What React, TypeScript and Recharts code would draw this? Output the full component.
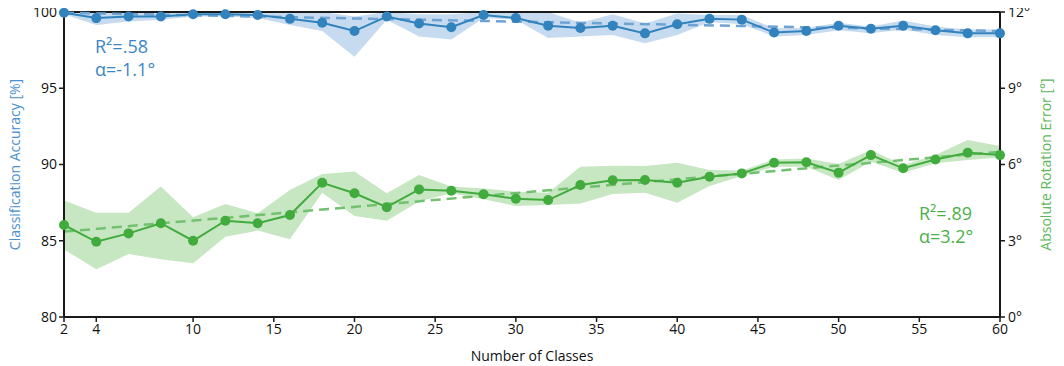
import React from 'react';
import { ComposedChart, Line, Area, XAxis, YAxis, ReferenceLine } from 'recharts';

const classes = [2, 4, 6, 8, 10, 12, 14, 16, 18, 20, 22, 24, 26, 28, 30, 32, 34, 36, 38, 40, 42, 44, 46, 48, 50, 52, 54, 56, 58, 60];
const accuracy = [99.95, 99.6, 99.7, 99.7, 99.85, 99.85, 99.8, 99.55, 99.3, 98.75, 99.7, 99.25, 99.0, 99.8, 99.6, 99.1, 98.95, 99.1, 98.6, 99.2, 99.55, 99.5, 98.65, 98.75, 99.1, 98.9, 99.1, 98.8, 98.6, 98.6];
const accuracyLow = [99.85, 99.15, 99.37, 99.5, 99.7, 99.7, 99.6, 99.15, 98.75, 97.07, 99.5, 98.4, 98.2, 99.6, 99.5, 98.3, 98.4, 98.5, 97.95, 98.5, 99.35, 99.2, 98.4, 98.5, 98.8, 98.6, 98.85, 98.5, 98.35, 98.35];
const accuracyHigh = [100, 100, 100, 100, 100, 100, 100, 100, 100, 99.7, 100, 99.85, 99.85, 100, 100, 100, 99.3, 99.85, 99.25, 99.9, 99.8, 99.8, 98.93, 98.95, 99.3, 99.05, 99.45, 99.05, 98.85, 98.85];
const rotError = [3.62, 2.96, 3.29, 3.69, 3.0, 3.79, 3.69, 4.01, 5.28, 4.87, 4.32, 5.02, 4.97, 4.83, 4.65, 4.6, 5.19, 5.38, 5.39, 5.28, 5.52, 5.65, 6.07, 6.09, 5.68, 6.37, 5.85, 6.2, 6.46, 6.37];
const rotErrorLow = [2.66, 1.88, 2.48, 2.27, 2.11, 3.16, 3.4, 3.06, 4.89, 3.97, 3.79, 4.54, 4.87, 4.63, 4.37, 4.41, 4.47, 4.84, 4.89, 4.5, 5.15, 5.55, 5.91, 5.91, 5.39, 6.11, 5.68, 6.05, 6.18, 6.28];
const rotErrorHigh = [4.58, 4.1, 4.1, 5.13, 3.92, 4.45, 4.08, 5.0, 5.63, 5.72, 4.87, 5.59, 5.13, 5.06, 4.93, 4.89, 5.91, 5.95, 5.94, 6.07, 5.78, 5.76, 6.2, 6.24, 6.02, 6.57, 5.98, 6.37, 6.96, 6.73];

const accuracyTrend = [{ c: 2, v: 99.95 }, { c: 60, v: 98.75 }];
const errorTrend = [{ c: 2, v: 3.36 }, { c: 60, v: 6.5 }];

const xTicks = [2, 4, 10, 15, 20, 25, 30, 35, 40, 45, 50, 55, 60];
const leftTicks = [80, 85, 90, 95, 100];
const rightTicks = [0, 3, 6, 9, 12];

const data = classes.map((c, i) => ({
  c,
  acc: accuracy[i],
  accBand: [accuracyLow[i], accuracyHigh[i]],
  err: rotError[i],
  errBand: [rotErrorLow[i], rotErrorHigh[i]],
}));

const W = 1064;
const H = 366;
const FONT = '"Open Sans", "Noto Sans", sans-serif';
const BLUE = '#3182bd';
const BLUE_BAND = '#c6dbef';
const BLUE_DASH = '#6ea3d3';
const BLUE_TEXT = '#3a86c6';
const GREEN = '#41ab3d';
const GREEN_BAND = '#c7e6c2';
const GREEN_DASH = '#72c16e';
const GREEN_TEXT = '#4cb04a';
const AXIS = '#1a1a1a';

export default function App() {
  const tickStyle = { fill: '#111', fontSize: 14, fontFamily: FONT };
  return (
    <div style={{ position: 'relative', width: W, height: H, margin: '-8px 0 0 -8px', fontFamily: FONT }}>
      <ComposedChart width={W} height={H} data={data} margin={{ top: 12, right: 0, bottom: 0, left: 0 }}>
        <XAxis
          dataKey="c"
          type="number"
          domain={[2, 60]}
          ticks={xTicks}
          interval={0}
          height={49}
          tick={tickStyle}
          tickSize={5}
          tickMargin={2}
          axisLine={{ stroke: AXIS, strokeWidth: 2 }}
          tickLine={{ stroke: AXIS, strokeWidth: 1.5 }}
          label={{ value: 'Number of Classes', position: 'insideBottom', offset: 5, style: { fill: '#111', fontSize: 14, fontFamily: FONT } }}
        />
        <YAxis
          yAxisId="left"
          domain={[80, 100]}
          ticks={leftTicks}
          interval={0}
          width={64}
          tick={tickStyle}
          tickSize={5}
          tickMargin={2}
          axisLine={{ stroke: AXIS, strokeWidth: 2 }}
          tickLine={{ stroke: AXIS, strokeWidth: 1.5 }}
          label={{ value: 'Classification Accuracy [%]', angle: -90, position: 'insideLeft', offset: 15, style: { textAnchor: 'middle', fill: '#4a90d0', fontSize: 14, fontFamily: FONT } }}
        />
        <YAxis
          yAxisId="right"
          orientation="right"
          domain={[0, 12]}
          ticks={rightTicks}
          interval={0}
          width={64}
          tick={tickStyle}
          tickFormatter={(v: number) => `${v}°`}
          tickSize={5}
          tickMargin={3}
          axisLine={{ stroke: AXIS, strokeWidth: 2 }}
          tickLine={{ stroke: AXIS, strokeWidth: 1.5 }}
          label={{ value: 'Absolute Rotation Error [°]', angle: -90, position: 'insideRight', offset: 18, style: { textAnchor: 'middle', fill: '#5cb85a', fontSize: 14, fontFamily: FONT } }}
        />
        <ReferenceLine yAxisId="left" y={100} stroke={AXIS} strokeWidth={2} />
        <Area yAxisId="left" type="linear" dataKey="accBand" stroke="none" fill={BLUE_BAND} fillOpacity={1} isAnimationActive={false} />
        <Area yAxisId="right" type="linear" dataKey="errBand" stroke="none" fill={GREEN_BAND} fillOpacity={1} isAnimationActive={false} />
        <Line yAxisId="left" data={accuracyTrend} dataKey="v" type="linear" stroke={BLUE_DASH} strokeWidth={2.5} strokeDasharray="10 6" dot={false} isAnimationActive={false} />
        <Line yAxisId="right" data={errorTrend} dataKey="v" type="linear" stroke={GREEN_DASH} strokeWidth={2.5} strokeDasharray="10 6" dot={false} isAnimationActive={false} />
        <Line yAxisId="left" dataKey="acc" type="linear" stroke={BLUE} strokeWidth={2} dot={{ r: 5, fill: BLUE, stroke: BLUE, strokeWidth: 0 }} isAnimationActive={false} />
        <Line yAxisId="right" dataKey="err" type="linear" stroke={GREEN} strokeWidth={2} dot={{ r: 5, fill: GREEN, stroke: GREEN, strokeWidth: 0 }} isAnimationActive={false} />
      </ComposedChart>
      <div style={{ position: 'absolute', left: 95, top: 35, color: BLUE_TEXT, fontSize: 18, lineHeight: '23px' }}>
        <div>R²=.58</div>
        <div>α=-1.1°</div>
      </div>
      <div style={{ position: 'absolute', left: 919, top: 202, color: GREEN_TEXT, fontSize: 18, lineHeight: '23px' }}>
        <div>R²=.89</div>
        <div>α=3.2°</div>
      </div>
    </div>
  );
}
